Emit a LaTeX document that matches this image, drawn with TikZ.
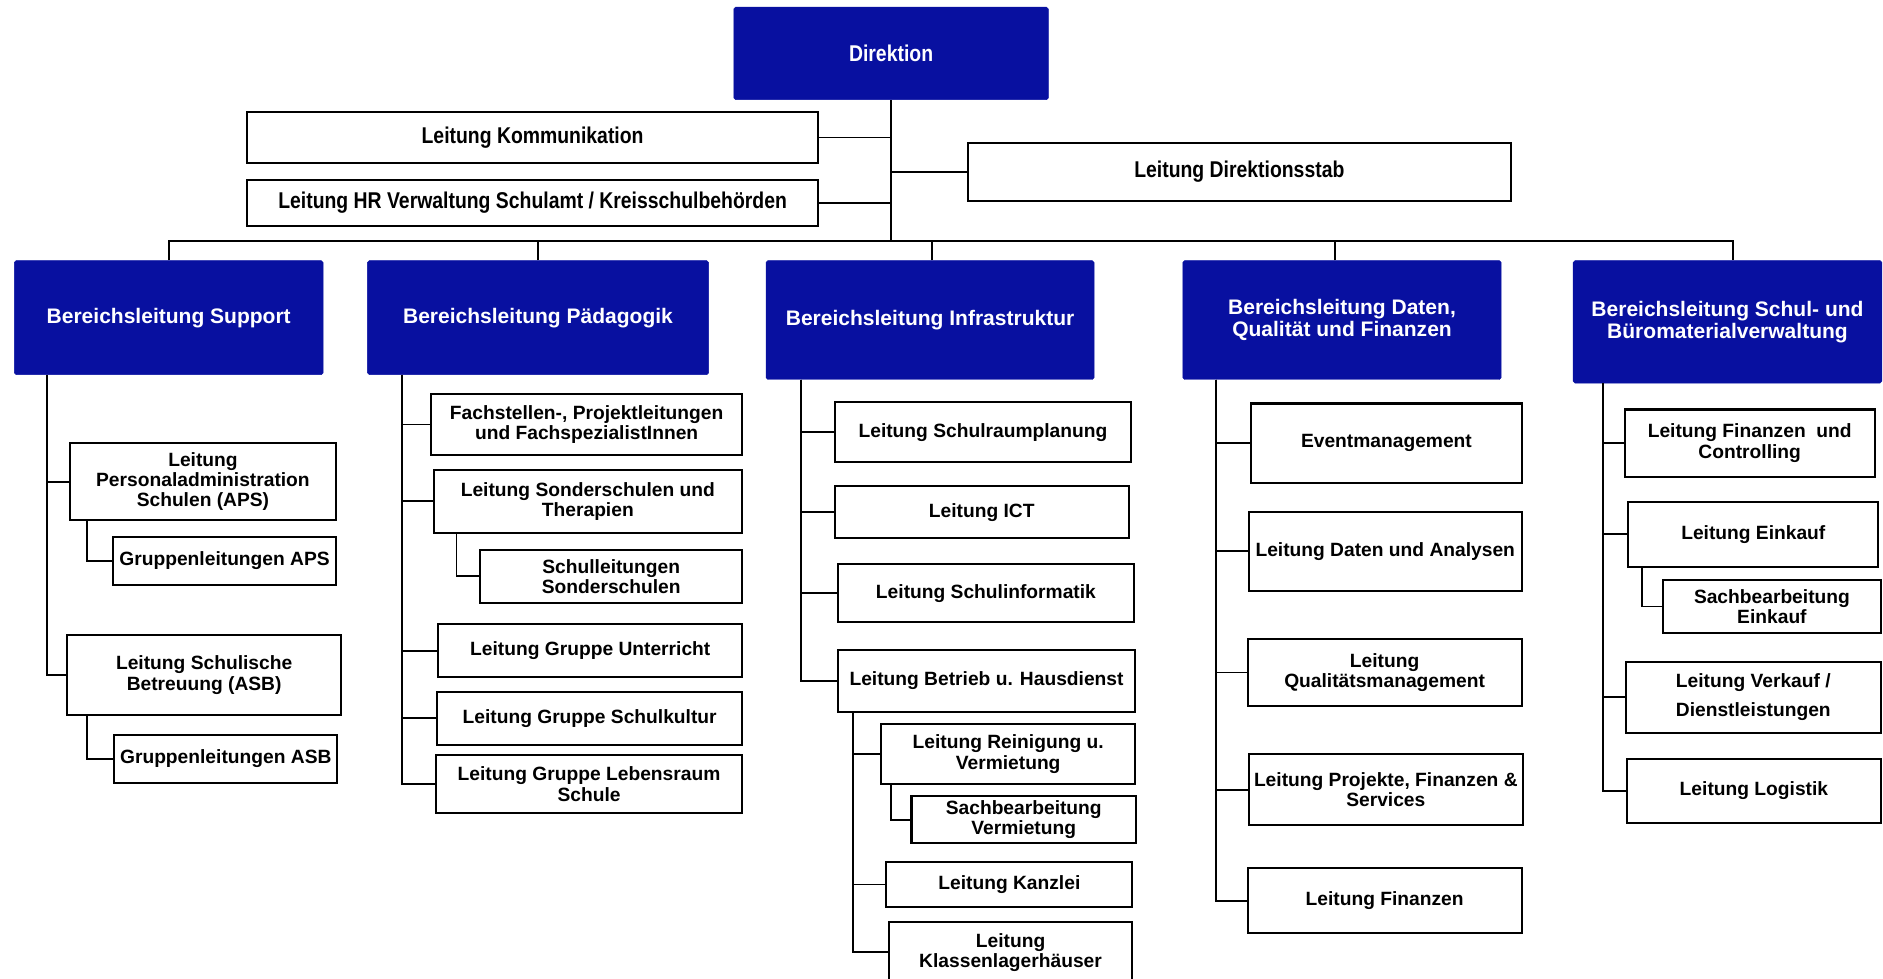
\documentclass[tikz,border=0pt]{standalone}
\usepackage{fontspec}
\setmainfont{Liberation Sans}
\newfontfamily\narrowfont[FakeStretch=0.85]{Liberation Sans}
\definecolor{dirblue}{RGB}{8,16,160}
\begin{document}
\begin{tikzpicture}[x=1pt,y=-1pt,
  headbox/.style={fill=dirblue,draw=dirblue,rounded corners=1.5pt,text=white,inner sep=0pt,align=center,
    font=\fontsize{17.5}{18}\selectfont\bfseries},
  unitbox/.style={draw=black,line width=1.7pt,fill=white,inner sep=0pt,align=center,
    font=\fontsize{16}{17}\selectfont\bfseries},
  staffbox/.style={unitbox,font=\narrowfont\fontsize{19}{20}\selectfont\bfseries},
  link/.style={line width=1.6pt},
  sz/.style n args={2}{minimum width=#1pt,minimum height=#2pt}]
\useasboundingbox (0,0) rectangle (1568,815);
\clip (0,0) rectangle (1568,815);

% top
\node[headbox,sz={262}{77},font=\narrowfont\fontsize{19}{20}\selectfont\bfseries] (dir) at (742,44.5) {Direktion};
\node[staffbox,sz={475}{43}] (komm) at (443.5,114.5) {Leitung Kommunikation};
\node[staffbox,sz={475}{38}] (hr) at (443.5,169) {Leitung HR Verwaltung Schulamt / Kreisschulbehörden};
\node[staffbox,sz={452}{48}] (stab) at (1032,143) {Leitung Direktionsstab};
\coordinate (busc) at (742,201);

% level 1
\node[headbox,sz={257}{95}] (bsup) at (140.5,264.5) {Bereichsleitung Support};
\node[headbox,sz={284}{95}] (bped) at (448,264.5) {Bereichsleitung Pädagogik};
\node[headbox,sz={273}{99}] (binf) at (774.5,266.5) {Bereichsleitung Infrastruktur};
\node[headbox,sz={265}{99}] (bdat) at (1117.5,266.5) {Bereichsleitung Daten,\\Qualität und Finanzen};
\node[headbox,sz={257}{102}] (bsch) at (1438.5,268) {Bereichsleitung Schul- und\\Büromaterialverwaltung};

% connectors top
\draw[link] (dir.south) -- (busc);
\draw[link] (komm.east) -- (komm.east -| dir.south);
\draw[link] (hr.east) -- (hr.east -| dir.south);
\draw[link] (stab.west) -- (stab.west -| dir.south);
\draw[link] (bsup.north) -- (bsup.north |- busc) -- ([xshift=4.5pt]bsch.north |- busc) -- ([xshift=4.5pt]bsch.north);
\draw[link] (bped.north) -- (bped.north |- busc);
\draw[link] ([xshift=1.5pt]binf.north) -- ([xshift=1.5pt]binf.north |- busc);
\draw[link] ([xshift=-6pt]bdat.north) -- ([xshift=-6pt]bdat.north |- busc);

% Support
\node[unitbox,sz={222}{64}] (aps) at (169,401) {Leitung\\Personaladministration\\Schulen (APS)};
\node[unitbox,sz={186}{40}] (gaps) at (187,467) {Gruppenleitungen APS};
\node[unitbox,sz={228}{66}] (asb) at (170,562) {Leitung Schulische\\Betreuung (ASB)};
\node[unitbox,sz={186}{40}] (gasb) at (188,632) {Gruppenleitungen ASB};
\draw[link] ([xshift=27pt]bsup.south west) |- (aps.west);
\draw[link] ([xshift=27pt]bsup.south west) |- (asb.west);
\draw[link] ([xshift=15pt]aps.south west) |- (gaps.west);
\draw[link] ([xshift=17pt]asb.south west) |- (gasb.west);

% Paedagogik
\node[unitbox,sz={259}{51}] (fach) at (488.5,353.5) {Fachstellen-, Projektleitungen\\und FachspezialistInnen};
\node[unitbox,sz={257}{53}] (sond) at (489.5,417.5) {Leitung Sonderschulen und\\Therapien};
\node[unitbox,sz={218}{44}] (schl) at (509,480) {Schulleitungen\\Sonderschulen};
\node[unitbox,sz={253}{44}] (unt) at (491.5,542) {Leitung Gruppe Unterricht};
\node[unitbox,sz={254}{44}] (kult) at (491,598) {Leitung Gruppe Schulkultur};
\node[unitbox,sz={255}{48}] (leb) at (490.5,653) {Leitung Gruppe Lebensraum\\Schule};
\foreach \c in {fach,sond,unt,kult,leb}
  \draw[link] ([xshift=29pt]bped.south west) |- (\c.west);
\draw[link] ([xshift=20pt]sond.south west) |- (schl.west);

% Infrastruktur
\node[unitbox,sz={247}{50}] (sra) at (818.5,360) {Leitung Schulraumplanung};
\node[unitbox,sz={245}{43}] (ict) at (817.5,426.5) {Leitung ICT};
\node[unitbox,sz={246}{48}] (sinf) at (821,494) {Leitung Schulinformatik};
\node[unitbox,sz={247}{52}] (betr) at (821.5,567) {Leitung Betrieb u. Hausdienst};
\node[unitbox,sz={211}{50}] (rein) at (839.5,628) {Leitung Reinigung u.\\Vermietung};
\node[unitbox,sz={187}{39}] (sverm) at (852.5,682.5) {Sachbearbeitung\\Vermietung};
\node[unitbox,sz={205}{37}] (kanz) at (840.5,736.5) {Leitung Kanzlei};
\node[unitbox,sz={203}{50}] (klas) at (841.5,793) {Leitung\\Klassenlagerhäuser};
\foreach \c in {sra,ict,sinf,betr}
  \draw[link] ([xshift=29pt]binf.south west) |- (\c.west);
\foreach \c in {rein,kanz,klas}
  \draw[link] ([xshift=13pt]betr.south west) |- (\c.west);
\draw[link] ([xshift=9pt]rein.south west) |- (sverm.west);

% Daten
\node[unitbox,sz={225}{66}] (event) at (1154.5,369) {Eventmanagement};
\node[unitbox,sz={227}{66}] (dana) at (1153.5,459) {Leitung Daten und Analysen};
\node[unitbox,sz={228}{56}] (qual) at (1153,560) {Leitung\\Qualitätsmanagement};
\node[unitbox,sz={228}{59}] (proj) at (1154,657.5) {Leitung Projekte, Finanzen \&\\Services};
\node[unitbox,sz={228}{54}] (fin) at (1153,750) {Leitung Finanzen};
\foreach \c in {event,dana,qual,proj,fin}
  \draw[link] ([xshift=28pt]bdat.south west) |- (\c.west);

% Schul- und Bueromaterial
\node[unitbox,sz={208}{56}] (fc) at (1457,369) {Leitung Finanzen~ und\\Controlling};
\node[unitbox,sz={208}{54}] (eink) at (1460,445) {Leitung Einkauf};
\node[unitbox,sz={181}{44}] (seink) at (1475.5,505) {Sachbearbeitung\\Einkauf};
\node[unitbox,sz={212}{59},font=\fontsize{16}{24}\selectfont\bfseries] (verk) at (1460,580.5) {Leitung Verkauf /\\Dienstleistungen};
\node[unitbox,sz={211}{53}] (log) at (1460.5,658.5) {Leitung Logistik};
\foreach \c in {fc,eink,verk,log}
  \draw[link] ([xshift=25pt]bsch.south west) |- (\c.west);
\draw[link] ([xshift=12pt]eink.south west) |- (seink.west);
\end{tikzpicture}
\end{document}
